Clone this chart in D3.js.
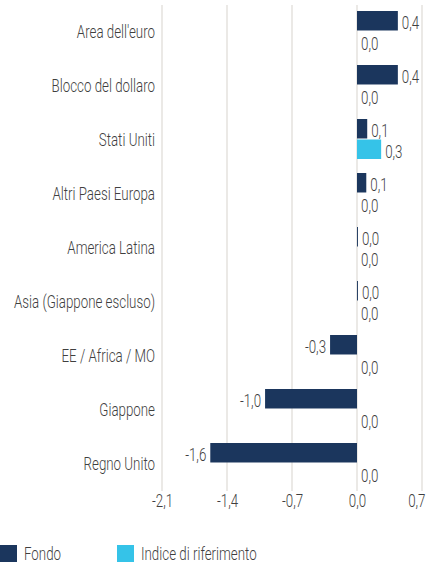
<!DOCTYPE html>
<html>
<head>
<meta charset="utf-8">
<script src="https://cdn.jsdelivr.net/npm/d3@7"></script>
<style>
  html, body { margin: 0; padding: 0; background: #fff; }
  svg { display: block; }
  text { font-family: Roboto, "DejaVu Sans Condensed", sans-serif; font-weight: 300; fill: #3f3f3f; }
</style>
</head>
<body>
<div id="chart"></div>
<script>
// Esposizione valutaria: fondo vs indice di riferimento
const categories = ["Area dell'euro", "Blocco del dollaro", "Stati Uniti", "Altri Paesi Europa",
  "America Latina", "Asia (Giappone escluso)", "EE / Africa / MO", "Giappone", "Regno Unito"];
const fondo = [0.44, 0.44, 0.11, 0.10, 0.01, 0.01, -0.29, -0.99, -1.58];
const indice = [0.0, 0.0, 0.26, 0.0, 0.0, 0.0, 0.0, 0.0, 0.0];
const ticks = [-2.1, -1.4, -0.7, 0.0, 0.7];
const series = ["Fondo", "Indice di riferimento"];

const colors = { "Fondo": "#1b365d", "Indice di riferimento": "#35c3e8" };

const W = 432, H = 563;
const FONT = 18;
const K = 0.74;
const svg = d3.select("#chart").append("svg").attr("width", W).attr("height", H);

const x = d3.scaleLinear().domain([-2.1, 0.7]).range([162, 422]);
const y = d3.scaleBand().domain(categories).range([3, 489]);
const ySub = d3.scaleBand().domain(series).range([-19, 21]).paddingInner(0.05);

const fmt = v => d3.format(".1f")(v).replace(".", ",").replace("−", "-");

// testo "condensato": nessun font stretto installato, quindi si comprime la larghezza
function condense(sel, k = K) {
  sel.each(function () {
    const w = this.getComputedTextLength();
    d3.select(this).attr("textLength", w * k).attr("lengthAdjust", "spacingAndGlyphs");
  });
}

// griglia
svg.append("g").selectAll("line").data(ticks).enter().append("line")
  .attr("x1", d => x(d)).attr("x2", d => x(d))
  .attr("y1", 5).attr("y2", 491)
  .attr("stroke", "#ebe9e6").attr("stroke-width", 2);

// asse x (etichette)
const xAxis = svg.append("g").attr("transform", "translate(0,494)")
  .call(d3.axisBottom(x).tickValues(ticks).tickSize(0).tickPadding(0).tickFormat(fmt));
xAxis.select(".domain").remove();
xAxis.attr("font-family", null).attr("font-size", null);
xAxis.selectAll("text").attr("font-size", FONT).attr("dy", "0.71em").call(condense);
// l'ultima etichetta resta dentro il bordo
xAxis.selectAll("text").filter(d => d === 0.7).attr("text-anchor", "end").attr("x", 3);

// asse y (categorie)
const yAxis = svg.append("g").attr("transform", "translate(155,2)")
  .call(d3.axisLeft(y).tickSize(0).tickPadding(0));
yAxis.select(".domain").remove();
yAxis.attr("font-family", null).attr("font-size", null);
yAxis.selectAll("text").attr("font-size", FONT).call(condense);

const rows = categories.map((c, i) => ({ cat: c, vals: [
  { s: "Fondo", v: fondo[i] }, { s: "Indice di riferimento", v: indice[i] }] }));

const g = svg.append("g").selectAll("g").data(rows).enter().append("g")
  .attr("transform", d => `translate(0,${y(d.cat) + y.bandwidth() / 2})`);

g.selectAll("rect").data(d => d.vals).enter().append("rect")
  .attr("x", d => x(Math.min(0, d.v)))
  .attr("width", d => Math.abs(x(d.v) - x(0)))
  .attr("y", d => ySub(d.s))
  .attr("height", ySub.bandwidth())
  .attr("fill", d => colors[d.s]);

g.selectAll("text.val").data(d => d.vals).enter().append("text")
  .attr("class", "val")
  .attr("x", d => d.v < 0 ? x(d.v) - 4 : x(d.v) + 4)
  .attr("y", d => ySub(d.s) + ySub.bandwidth() / 2 + 2)
  .attr("dy", "0.35em")
  .attr("text-anchor", d => d.v < 0 ? "end" : "start")
  .attr("font-size", FONT)
  .text(d => fmt(d.v))
  .call(condense);

// legenda
const legendX = [0, 117];
const lg = svg.append("g").selectAll("g").data(series).enter().append("g")
  .attr("transform", (d, i) => `translate(${legendX[i]},545)`);
lg.append("rect").attr("width", 17).attr("height", 17).attr("fill", d => colors[d]);
lg.append("text").attr("x", 24).attr("y", 9).attr("dy", "0.35em").attr("font-size", FONT)
  .text(d => d).call(condense);
</script>
</body>
</html>
